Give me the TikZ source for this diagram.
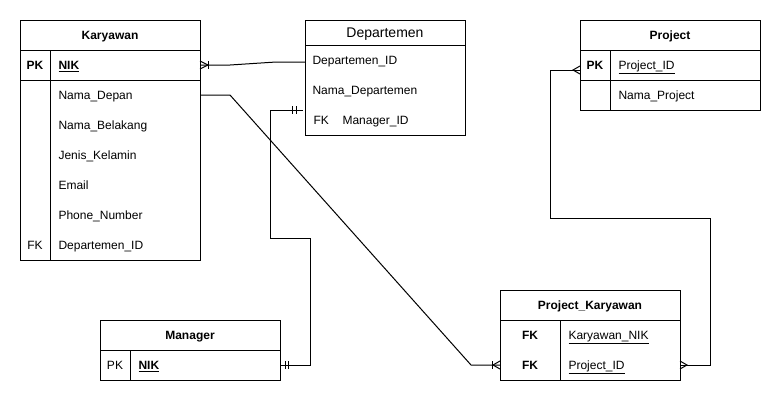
\documentclass[tikz,border=0pt]{standalone}
\usepackage{fontspec}
\setmainfont{Liberation Sans}
\begin{document}
\fontsize{9}{11}\selectfont
\begin{tikzpicture}[x=0.75pt, y=-0.75pt, line width=0.75pt,
    txt/.style={inner sep=0pt, text height=6.4pt, text depth=0pt},
    ttl/.style={txt, font=\bfseries},
    key/.style={txt},
    attr/.style={txt, anchor=west}]
    \useasboundingbox (0,0) rectangle (781,401);

    \draw (20,20) rectangle (200,260);
    \draw (20,50) -- (200,50);
    \draw (20,80) -- (200,80);
    \draw (50,50) -- (50,260);
    \node[ttl] (karyawan) at (110,35) {Karyawan};
    \node[key, font=\bfseries] (kPK) at (35,65) {PK};
    \node[attr, font=\bfseries] (kNIK) at (58,65) {\underline{NIK}};
    \node[attr] (kDepan) at (58,95) {Nama\_Depan};
    \node[attr] (kBelakang) at (58,125) {Nama\_Belakang};
    \node[attr] (kKelamin) at (58,155) {Jenis\_Kelamin};
    \node[attr] (kEmail) at (58,185) {Email};
    \node[attr] (kPhone) at (58,215) {Phone\_Number};
    \node[key] (kFK) at (35,245) {FK};
    \node[attr] (kDeptID) at (58,245) {Departemen\_ID};

    \draw (305,20) rectangle (465,135);
    \draw (305,45) -- (465,45);
    \node[txt, font=\fontsize{10.5}{12}\selectfont] (departemen) at (385,33) {Departemen};
    \node[attr] (dID) at (312,60) {Departemen\_ID};
    \node[attr] (dNama) at (312,90) {Nama\_Departemen};
    \node[attr] (dFK) at (313,120) {FK};
    \node[attr] (dMgr) at (342,120) {Manager\_ID};

    \draw (580,20) rectangle (760,110);
    \draw (580,50) -- (760,50);
    \draw (580,80) -- (760,80);
    \draw (610,50) -- (610,110);
    \node[ttl] (project) at (670,35) {Project};
    \node[key, font=\bfseries] (pPK) at (595,65) {PK};
    \node[attr] (pID) at (618,65) {\underline{Project\_ID}};
    \node[attr] (pNama) at (618,95) {Nama\_Project};

    \draw (100,320) rectangle (280,380);
    \draw (100,350) -- (280,350);
    \draw (130,350) -- (130,380);
    \node[ttl] (manager) at (190,335) {Manager};
    \node[key] (mPK) at (115,365) {PK};
    \node[attr, font=\bfseries] (mNIK) at (138,365) {\underline{NIK}};

    \draw (500,290) rectangle (680,380);
    \draw (500,320) -- (680,320);
    \draw (560,320) -- (560,380);
    \node[ttl] (projkar) at (590,305) {Project\_Karyawan};
    \node[key, font=\bfseries] (pkFK1) at (530,335) {FK};
    \node[attr] (pkNIK) at (568,335) {\underline{Karyawan\_NIK}};
    \node[key, font=\bfseries] (pkFK2) at (530,365) {FK};
    \node[attr] (pkPID) at (568,365) {\underline{Project\_ID}};

    \coordinate (kNIKe) at (200,65);
    \coordinate (dIDw) at (305,62);
    \coordinate (kDepane) at (200,95);
    \coordinate (pkPIDw) at (500,365);
    \coordinate (pkPIDe) at (680,365);
    \coordinate (pIDw) at (580,70);
    \coordinate (mNIKe) at (280,365);
    \coordinate (dMgrw) at (303,110);

    \draw (dIDw) -- ++(-29,0) -- ([shift={(30,0)}]kNIKe) -- (kNIKe);
    \draw ([shift={(0,-4)}]kNIKe) -- ([shift={(8,0)}]kNIKe) -- ([shift={(0,4)}]kNIKe);
    \draw ([shift={(8,-4)}]kNIKe) -- ([shift={(8,4)}]kNIKe);

    \draw (kDepane) -- ++(30,0) -- ([shift={(-29,0)}]pkPIDw) -- (pkPIDw);
    \draw ([shift={(0,-4)}]pkPIDw) -- ([shift={(-7,0)}]pkPIDw) -- ([shift={(0,4)}]pkPIDw);
    \draw ([shift={(-8,-4)}]pkPIDw) -- ([shift={(-8,4)}]pkPIDw);

    \draw (pkPIDe) -| (710,218) -| (550,70) -- (pIDw);
    \draw ([shift={(0,-4)}]pkPIDe) -- ([shift={(7,0)}]pkPIDe) -- ([shift={(0,4)}]pkPIDe);
    \draw ([shift={(0,-4)}]pIDw) -- ([shift={(-7,0)}]pIDw) -- ([shift={(0,4)}]pIDw);

    \draw (mNIKe) -| (310,238) -| (270,110) -- (dMgrw);
    \draw ([shift={(5,-4)}]mNIKe) -- ([shift={(5,4)}]mNIKe);
    \draw ([shift={(8,-4)}]mNIKe) -- ([shift={(8,4)}]mNIKe);
    \draw ([shift={(-11,-4)}]dMgrw) -- ([shift={(-11,4)}]dMgrw);
    \draw ([shift={(-7,-4)}]dMgrw) -- ([shift={(-7,4)}]dMgrw);
\end{tikzpicture}
\end{document}
